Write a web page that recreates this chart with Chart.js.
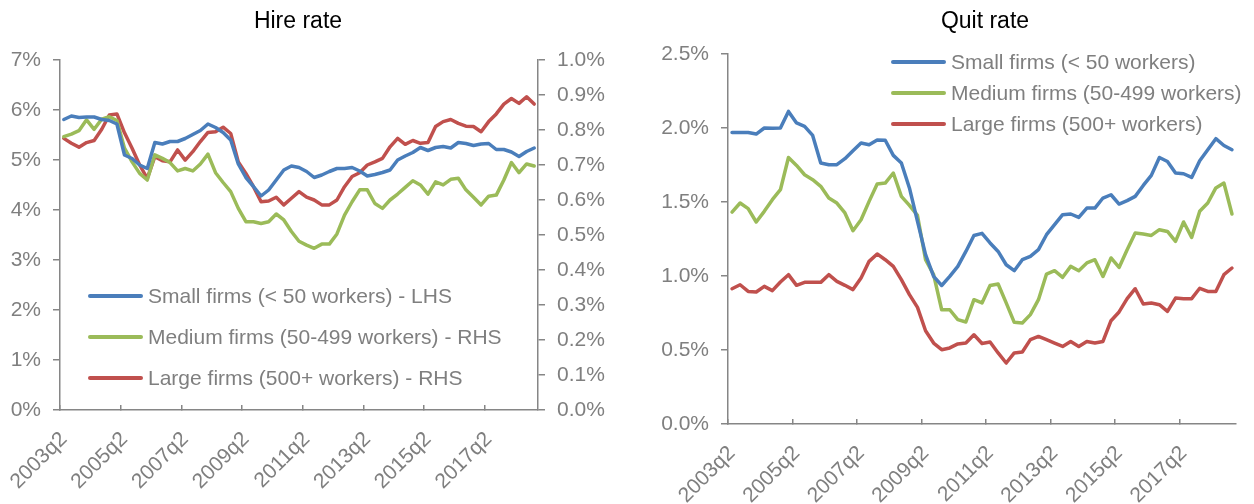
<!DOCTYPE html>
<html>
<head>
<meta charset="utf-8">
<script src="https://cdn.jsdelivr.net/npm/chart.js@4.4.0/dist/chart.umd.min.js"></script>
<style>
  body { margin: 0; background: #fff; font-family: "Liberation Sans", Arial, sans-serif; }
  #wrap { position: relative; width: 1254px; height: 504px; overflow: hidden; }
  canvas { position: absolute; top: 0; }
  .title { position: absolute; top: 7px; font-size: 23px; color: #000; transform: translateX(-50%); white-space: nowrap; }
  .leg { position: absolute; font-size: 21px; color: #7f7f7f; white-space: nowrap; line-height: 24px; }
  .leg span { display: inline-block; width: 55px; height: 4px; border-radius: 2px; vertical-align: middle; margin-right: 5px; position: relative; top: -1px; }
</style>
</head>
<body>
<div id="wrap">
  <canvas id="hire" width="627" height="504" style="left:0"></canvas>
  <canvas id="quit" width="627" height="504" style="left:627px"></canvas>
  <div class="title" style="left:298px">Hire rate</div>
  <div class="title" style="left:985px">Quit rate</div>
  <div id="legHire"></div>
  <div id="legQuit"></div>
</div>
<script>
'use strict';

// quarters 2003q2 .. 2018q4
let quarters = [];
for (let y = 2003; y <= 2018; y++) {
    for (let q = 1; q <= 4; q++) {
        if (y === 2003 && q < 2) continue;
        quarters.push(y + 'q' + q);
    }
}

let seriesNames = ['Small firms (< 50 workers)', 'Medium firms (50-499 workers)', 'Large firms (500+ workers)'];
let hireSuffix = [' - LHS', ' - RHS', ' - RHS'];

// hire rate, small firms (%), left axis
let hireSmall = [5.81, 5.88, 5.85, 5.86, 5.86, 5.81, 5.79, 5.72, 5.10, 5.03, 4.90, 4.83, 5.35, 5.32, 5.37, 5.37,
    5.43, 5.51, 5.59, 5.72, 5.65, 5.55, 5.40, 4.92, 4.65, 4.47, 4.28, 4.40, 4.60, 4.80, 4.88, 4.85,
    4.77, 4.65, 4.70, 4.77, 4.83, 4.83, 4.85, 4.78, 4.68, 4.71, 4.75, 4.80, 5.00, 5.08, 5.15, 5.25,
    5.19, 5.25, 5.27, 5.24, 5.35, 5.33, 5.29, 5.32, 5.33, 5.21, 5.21, 5.16, 5.07, 5.17, 5.24];
// hire rate, medium firms (%), right axis
let hireMedium = [0.781, 0.788, 0.798, 0.829, 0.802, 0.831, 0.838, 0.827, 0.748, 0.709, 0.676, 0.657, 0.729, 0.719, 0.707, 0.683,
    0.690, 0.683, 0.703, 0.731, 0.678, 0.650, 0.624, 0.576, 0.538, 0.538, 0.533, 0.538, 0.560, 0.543, 0.510, 0.482,
    0.471, 0.462, 0.474, 0.474, 0.503, 0.557, 0.595, 0.629, 0.629, 0.590, 0.576, 0.600, 0.617, 0.636, 0.655, 0.643,
    0.617, 0.652, 0.643, 0.659, 0.662, 0.629, 0.608, 0.586, 0.611, 0.614, 0.657, 0.707, 0.678, 0.703, 0.697];
// hire rate, large firms (%), right axis
let hireLarge = [0.776, 0.762, 0.751, 0.764, 0.770, 0.802, 0.843, 0.846, 0.792, 0.748, 0.700, 0.662, 0.724, 0.712, 0.709, 0.743,
    0.714, 0.738, 0.767, 0.793, 0.795, 0.808, 0.790, 0.709, 0.676, 0.638, 0.595, 0.597, 0.608, 0.586, 0.605, 0.624,
    0.608, 0.600, 0.586, 0.586, 0.600, 0.638, 0.667, 0.678, 0.700, 0.709, 0.719, 0.752, 0.776, 0.759, 0.770, 0.762,
    0.764, 0.810, 0.824, 0.830, 0.819, 0.811, 0.810, 0.795, 0.824, 0.846, 0.874, 0.890, 0.876, 0.895, 0.874];

// quit rate (%)
let quitSmall = [1.970, 1.970, 1.970, 1.959, 2.000, 1.998, 2.000, 2.112, 2.034, 2.011, 1.950, 1.764, 1.752, 1.752, 1.793, 1.847,
    1.899, 1.887, 1.919, 1.917, 1.815, 1.764, 1.595, 1.369, 1.144, 0.997, 0.936, 0.997, 1.065, 1.166, 1.274, 1.288,
    1.223, 1.166, 1.076, 1.036, 1.110, 1.133, 1.178, 1.279, 1.347, 1.414, 1.419, 1.396, 1.459, 1.459, 1.527, 1.549,
    1.486, 1.509, 1.538, 1.612, 1.680, 1.801, 1.774, 1.696, 1.691, 1.666, 1.779, 1.853, 1.928, 1.882, 1.853];
let quitMedium = [1.432, 1.493, 1.455, 1.365, 1.437, 1.516, 1.583, 1.801, 1.747, 1.684, 1.651, 1.606, 1.527, 1.493, 1.426, 1.306,
    1.380, 1.504, 1.622, 1.628, 1.696, 1.538, 1.477, 1.409, 1.110, 1.009, 0.772, 0.772, 0.705, 0.689, 0.840, 0.818,
    0.936, 0.946, 0.818, 0.687, 0.682, 0.739, 0.840, 1.013, 1.036, 0.991, 1.065, 1.036, 1.088, 1.110, 0.997, 1.122,
    1.058, 1.178, 1.291, 1.284, 1.274, 1.313, 1.301, 1.234, 1.365, 1.261, 1.437, 1.493, 1.595, 1.628, 1.419];
let quitLarge = [0.914, 0.941, 0.896, 0.892, 0.930, 0.901, 0.959, 1.009, 0.937, 0.957, 0.957, 0.957, 1.009, 0.964, 0.937, 0.908,
    0.986, 1.099, 1.149, 1.110, 1.065, 0.975, 0.874, 0.788, 0.630, 0.547, 0.502, 0.514, 0.541, 0.547, 0.603, 0.544,
    0.554, 0.480, 0.412, 0.480, 0.486, 0.570, 0.592, 0.570, 0.547, 0.524, 0.558, 0.524, 0.558, 0.547, 0.558, 0.698,
    0.757, 0.847, 0.914, 0.811, 0.818, 0.806, 0.761, 0.851, 0.847, 0.847, 0.917, 0.896, 0.896, 1.009, 1.054];

let hireLeftTicks = [0, 1, 2, 3, 4, 5, 6, 7];
let hireRightTicks = [0, 0.1, 0.2, 0.3, 0.4, 0.5, 0.6, 0.7, 0.8, 0.9, 1.0];
let quitTicks = [0, 0.5, 1.0, 1.5, 2.0, 2.5];

let colors = ['#4a7ebb', '#9bbb59', '#c0504d'];
let axisColor = '#868686';
let textColor = '#7f7f7f';
let fontFamily = '"Liberation Sans", Arial, sans-serif';

function makeLegend(id, left, tops, suffix) {
    let box = document.getElementById(id);
    for (let i = 0; i < seriesNames.length; i++) {
        let row = document.createElement('div');
        row.className = 'leg';
        row.style.left = left + 'px';
        row.style.top = (tops[i] - 12) + 'px';
        let line = document.createElement('span');
        line.style.background = colors[i];
        row.appendChild(line);
        row.appendChild(document.createTextNode(seriesNames[i] + (suffix ? suffix[i] : '')));
        box.appendChild(row);
    }
}
makeLegend('legHire', 88, [296, 337, 378], hireSuffix);
makeLegend('legQuit', 891, [62, 93, 124], null);

function xAxis(height) {
    return {
        type: 'category',
        offset: true,
        grid: {
            offset: true,
            drawOnChartArea: false,
            tickLength: -5,
            lineWidth: 1.5,
            color: (ctx) => ctx.index % 8 === 0 ? axisColor : 'rgba(0,0,0,0)'
        },
        border: { color: axisColor, width: 1.5 },
        ticks: {
            autoSkip: false,
            maxRotation: 45,
            minRotation: 45,
            padding: 22,
            color: textColor,
            font: { family: fontFamily, size: 21 },
            callback: (v, i) => i % 8 === 0 ? quarters[i] : ''
        },
        afterFit: (s) => {
            // rotated labels must not push the plot area
            s.height = height;
            s.paddingLeft = 0;
            s.paddingRight = 0;
        }
    };
}

function yAxis(pos, tickVals, digits, width) {
    return {
        position: pos,
        min: tickVals[0],
        max: tickVals[tickVals.length - 1],
        afterBuildTicks: (s) => { s.ticks = tickVals.map(v => ({ value: v })); },
        grid: { drawOnChartArea: false, tickLength: 7, lineWidth: 1.5, color: axisColor },
        border: { color: axisColor, width: 1.5 },
        ticks: {
            padding: 12,
            color: textColor,
            font: { family: fontFamily, size: 21 },
            callback: (v) => v.toFixed(digits) + '%'
        },
        afterFit: (s) => { s.width = width; }
    };
}

let baseOptions = {
    responsive: false,
    animation: false,
    elements: { point: { radius: 0 }, line: { borderWidth: 3.5, tension: 0, borderCapStyle: 'round', borderJoinStyle: 'round' } },
    plugins: { legend: { display: false }, tooltip: { enabled: false } }
};

new Chart(document.getElementById('hire').getContext('2d'), {
    type: 'line',
    data: {
        labels: quarters,
        datasets: [
            { label: seriesNames[0] + hireSuffix[0], data: hireSmall, borderColor: colors[0], yAxisID: 'y' },
            { label: seriesNames[1] + hireSuffix[1], data: hireMedium, borderColor: colors[1], yAxisID: 'y2' },
            { label: seriesNames[2] + hireSuffix[2], data: hireLarge, borderColor: colors[2], yAxisID: 'y2' }
        ]
    },
    options: Object.assign({}, baseOptions, {
        layout: { padding: { top: 60, left: 0, right: 0, bottom: 0 } },
        scales: {
            x: xAxis(94),
            y: yAxis('left', hireLeftTicks, 0, 60),
            y2: yAxis('right', hireRightTicks, 1, 89)
        }
    })
});

new Chart(document.getElementById('quit').getContext('2d'), {
    type: 'line',
    data: {
        labels: quarters,
        datasets: [
            { label: seriesNames[0], data: quitSmall, borderColor: colors[0] },
            { label: seriesNames[1], data: quitMedium, borderColor: colors[1] },
            { label: seriesNames[2], data: quitLarge, borderColor: colors[2] }
        ]
    },
    options: Object.assign({}, baseOptions, {
        layout: { padding: { top: 54, left: 0, right: 18, bottom: 0 } },
        scales: {
            x: xAxis(80),
            y: yAxis('left', quitTicks, 1, 101)
        }
    })
});
</script>
</body>
</html>
